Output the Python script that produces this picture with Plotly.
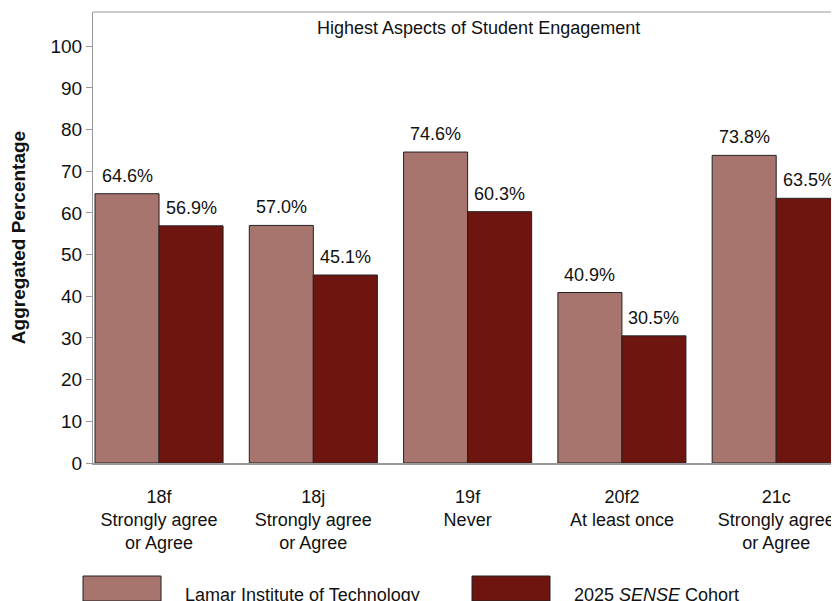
import plotly.graph_objects as go

categories = ["18f<br>Strongly agree<br>or Agree", "18j<br>Strongly agree<br>or Agree",
              "19f<br>Never", "20f2<br>At least once", "21c<br>Strongly agree<br>or Agree"]
college_values = [64.6, 57.0, 74.6, 40.9, 73.8]
cohort_values = [56.9, 45.1, 60.3, 30.5, 63.5]
series_names = ["Lamar Institute of Technology", "2025 <i>SENSE</i> Cohort"]
colors = ["#A8756E", "#6E1510"]
y_ticks = [0, 10, 20, 30, 40, 50, 60, 70, 80, 90, 100]

FONT = "Liberation Sans, Arial, sans-serif"

# plot area in figure pixels (the page adds an 8px body margin)
L, T, B, W, H = 85, 4, 455, 831, 593
PW, PH = W - L, B - T
X0, X1 = -0.428, 4.407
BARGAP = 0.17
half_bar_px = PW / (X1 - X0) * (1 - BARGAP) / 4

fig = go.Figure()
for name, vals, col in zip(series_names, [college_values, cohort_values], colors):
    fig.add_trace(go.Bar(
        x=categories, y=vals, name=name,
        marker=dict(color=col, line=dict(color="#222222", width=1)),
        showlegend=False,
    ))

# value labels above each bar
for k, vals in enumerate([college_values, cohort_values]):
    shift = -half_bar_px if k == 0 else half_bar_px
    for c, v in zip(categories, vals):
        fig.add_annotation(x=c, y=v, text=f"{v:.1f}%", xshift=shift, yshift=6,
                           yanchor="bottom", showarrow=False,
                           font=dict(size=18, color="#111111", family=FONT))

fig.update_layout(
    width=W, height=H,
    margin=dict(l=L, r=0, t=T, b=H - B),
    paper_bgcolor="white", plot_bgcolor="white",
    barmode="group", bargap=BARGAP, bargroupgap=0,
    font=dict(family=FONT, size=18, color="#111111"),
    xaxis=dict(range=[X0, X1], showline=True, linecolor="#999999", linewidth=2,
               ticks="", tickfont=dict(size=18), showgrid=False, ticklabelstandoff=16),
    yaxis=dict(range=[0, 108.2], tickvals=y_ticks, showline=True, linecolor="#999999",
               linewidth=1, ticks="outside", ticklen=6, tickcolor="#999999",
               showgrid=False, zeroline=False, tickfont=dict(size=19),
               title=dict(text="<b>Aggregated Percentage</b>", font=dict(size=19), standoff=20)),
    showlegend=False,
)
# top border
fig.add_shape(type="line", xref="paper", yref="paper", x0=0, x1=1, y0=1, y1=1,
              line=dict(color="#999999", width=1))
fig.add_annotation(text="Highest Aspects of Student Engagement", xref="paper", yref="paper",
                   x=(470 - L) / PW, y=1 - 4 / PH, yanchor="top", showarrow=False,
                   font=dict(size=18))

# legend drawn manually (figure-pixel positions)
leg = [(75, 153, 175), (464, 542, 564)]
for (x0, x1, tx), name, col in zip(leg, series_names, colors):
    fig.add_shape(type="rect", xref="paper", yref="paper",
                  x0=(x0 - L) / PW, x1=(x1 - L) / PW,
                  y0=(B - 593) / PH, y1=(B - 568) / PH,
                  fillcolor=col, line=dict(color="#222222", width=1))
    fig.add_annotation(text=name, xref="paper", yref="paper", x=(tx - L) / PW,
                       y=(B - 587) / PH, xanchor="left", yanchor="middle",
                       showarrow=False, font=dict(size=18))

fig.write_html(
    "out.html",
    config={"displayModeBar": False},
    post_script="document.documentElement.style.overflow='hidden';"
                "document.body.style.overflow='hidden';",
)
